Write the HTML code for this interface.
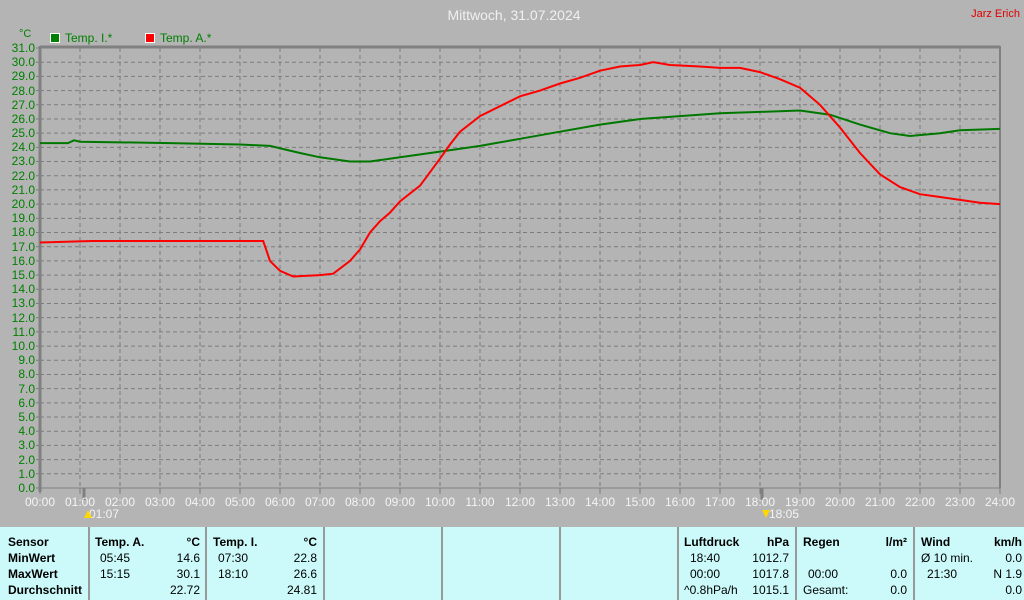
<!DOCTYPE html><html><head><meta charset="utf-8"><style>
body{margin:0;width:1024px;height:600px;background:#b4b4b4;overflow:hidden;font-family:"Liberation Sans",sans-serif}
svg{position:absolute;left:0;top:0}
#tbl{position:absolute;left:0;top:527px;width:1024px;height:73px;background:#ccfafa;font-size:12px;color:#000}
.c{position:absolute;top:0;height:73px;border-left:2px solid #999}
.t{position:absolute;white-space:nowrap}
.b{font-weight:bold}
</style></head><body>
<svg width="1024" height="527" id="s">
<text x="514" y="20" font-size="14" fill="#f0f0f0" text-anchor="middle">Mittwoch, 31.07.2024</text>
<text x="1020" y="17" font-size="11" fill="#e00000" text-anchor="end">Jarz Erich</text>
<text x="19" y="37" font-size="11" fill="#008000">°C</text>
<rect x="50.5" y="33.5" width="9" height="9" fill="#008000" stroke="#fff"/>
<text x="65" y="42" font-size="12" fill="#008000">Temp. I.*</text>
<rect x="145.5" y="33.5" width="9" height="9" fill="#ff0000" stroke="#fff"/>
<text x="160" y="42" font-size="12" fill="#008000">Temp. A.*</text>
<g id="grid"></g>
<g font-size="12" fill="#008000" text-anchor="end">
<text x="35" y="52">31.0</text><text x="35" y="66">30.0</text><text x="35" y="80">29.0</text><text x="35" y="95">28.0</text><text x="35" y="109">27.0</text><text x="35" y="123">26.0</text><text x="35" y="137">25.0</text><text x="35" y="151">24.0</text><text x="35" y="165">23.0</text><text x="35" y="180">22.0</text><text x="35" y="194">21.0</text><text x="35" y="208">20.0</text><text x="35" y="222">19.0</text><text x="35" y="236">18.0</text><text x="35" y="251">17.0</text><text x="35" y="265">16.0</text><text x="35" y="279">15.0</text><text x="35" y="293">14.0</text><text x="35" y="307">13.0</text><text x="35" y="322">12.0</text><text x="35" y="336">11.0</text><text x="35" y="350">10.0</text><text x="35" y="364">9.0</text><text x="35" y="378">8.0</text><text x="35" y="393">7.0</text><text x="35" y="407">6.0</text><text x="35" y="421">5.0</text><text x="35" y="435">4.0</text><text x="35" y="449">3.0</text><text x="35" y="464">2.0</text><text x="35" y="478">1.0</text><text x="35" y="492">0.0</text>
</g>
<g font-size="12" fill="#f4f4f4" text-anchor="middle">
<text x="40" y="506">00:00</text><text x="80" y="506">01:00</text><text x="120" y="506">02:00</text><text x="160" y="506">03:00</text><text x="200" y="506">04:00</text><text x="240" y="506">05:00</text><text x="280" y="506">06:00</text><text x="320" y="506">07:00</text><text x="360" y="506">08:00</text><text x="400" y="506">09:00</text><text x="440" y="506">10:00</text><text x="480" y="506">11:00</text><text x="520" y="506">12:00</text><text x="560" y="506">13:00</text><text x="600" y="506">14:00</text><text x="640" y="506">15:00</text><text x="680" y="506">16:00</text><text x="720" y="506">17:00</text><text x="760" y="506">18:00</text><text x="800" y="506">19:00</text><text x="840" y="506">20:00</text><text x="880" y="506">21:00</text><text x="920" y="506">22:00</text><text x="960" y="506">23:00</text><text x="1000" y="506">24:00</text>
<text x="104" y="518">01:07</text><text x="784" y="518">18:05</text>
</g>
<polygon points="84,518 88,510 92,518" fill="#ffd800"/>
<polygon points="762,510 766,518 770,510" fill="#ffd800"/>
<polyline id="g" fill="none" stroke="#007800" stroke-width="2"/>
<polyline id="r" fill="none" stroke="#ff0000" stroke-width="2"/>
</svg>
<div id="tbl">
<div class="c" style="left:88px"></div><div class="c" style="left:205px"></div><div class="c" style="left:323px"></div><div class="c" style="left:441px"></div><div class="c" style="left:559px"></div><div class="c" style="left:677px"></div><div class="c" style="left:795px"></div><div class="c" style="left:913px"></div>
<div class="t b" style="left:8px;top:8px">Sensor</div><div class="t b" style="left:8px;top:24px">MinWert</div><div class="t b" style="left:8px;top:40px">MaxWert</div><div class="t b" style="left:8px;top:56px">Durchschnitt</div>
<div class="t b" style="left:95px;top:8px">Temp. A.</div><div class="t b" style="right:824px;top:8px">°C</div>
<div class="t" style="left:100px;top:24px">05:45</div><div class="t" style="right:824px;top:24px">14.6</div>
<div class="t" style="left:100px;top:40px">15:15</div><div class="t" style="right:824px;top:40px">30.1</div>
<div class="t" style="right:824px;top:56px">22.72</div>
<div class="t b" style="left:213px;top:8px">Temp. I.</div><div class="t b" style="right:707px;top:8px">°C</div>
<div class="t" style="left:218px;top:24px">07:30</div><div class="t" style="right:707px;top:24px">22.8</div>
<div class="t" style="left:218px;top:40px">18:10</div><div class="t" style="right:707px;top:40px">26.6</div>
<div class="t" style="right:707px;top:56px">24.81</div>
<div class="t b" style="left:684px;top:8px">Luftdruck</div><div class="t b" style="right:235px;top:8px">hPa</div>
<div class="t" style="left:690px;top:24px">18:40</div><div class="t" style="right:235px;top:24px">1012.7</div>
<div class="t" style="left:690px;top:40px">00:00</div><div class="t" style="right:235px;top:40px">1017.8</div>
<div class="t" style="left:684px;top:56px">^0.8hPa/h</div><div class="t" style="right:235px;top:56px">1015.1</div>
<div class="t b" style="left:803px;top:8px">Regen</div><div class="t b" style="right:117px;top:8px">l/m²</div>
<div class="t" style="left:808px;top:40px">00:00</div><div class="t" style="right:117px;top:40px">0.0</div>
<div class="t" style="left:803px;top:56px">Gesamt:</div><div class="t" style="right:117px;top:56px">0.0</div>
<div class="t b" style="left:921px;top:8px">Wind</div><div class="t b" style="right:2px;top:8px">km/h</div>
<div class="t" style="left:921px;top:24px">Ø 10 min.</div><div class="t" style="right:2px;top:24px">0.0</div>
<div class="t" style="left:927px;top:40px">21:30</div><div class="t" style="right:2px;top:40px">N 1.9</div>
<div class="t" style="right:2px;top:56px">0.0</div>
</div>
<script>
var ns="http://www.w3.org/2000/svg",g=document.getElementById("grid");
function ln(x1,y1,x2,y2,st,w,d){var l=document.createElementNS(ns,"line");l.setAttribute("x1",x1);l.setAttribute("y1",y1);l.setAttribute("x2",x2);l.setAttribute("y2",y2);l.setAttribute("stroke",st);l.setAttribute("stroke-width",w);if(d)l.setAttribute("stroke-dasharray",d);g.appendChild(l);}
function Y(v){return 488-v*440/31;}
for(var v=1;v<31;v++)ln(40,Y(v),1000,Y(v),"#7c7c7c",1,"4 3");
for(var h=1;h<24;h++)ln(40+h*40,48,40+h*40,488,"#7c7c7c",1,"4 3");
for(var v=0;v<=31;v++)ln(36,Y(v),40,Y(v),"#7c7c7c",1);
for(var h=0;h<=24;h++)ln(40+h*40,488,40+h*40,494,"#7c7c7c",1);
ln(40,47,1000,47,"#808080",3);ln(40,46,40,492,"#808080",3);ln(1000,46,1000,488,"#808080",2);ln(40,488,1000,488,"#808080",1);
ln(84,488,84,500,"#808080",3);ln(762,488,762,500,"#808080",3);
function P(id,a){var s=[];for(var i=0;i<a.length;i+=2)s.push((40+a[i]*40).toFixed(1)+","+Y(a[i+1]).toFixed(1));document.getElementById(id).setAttribute("points",s.join(" "));}
P("r",[0,17.3,1.3,17.4,5.58,17.4,5.75,16.0,6,15.3,6.33,14.9,7,15.0,7.33,15.1,7.75,16.0,8,16.8,8.25,18.0,8.5,18.8,8.75,19.4,9,20.2,9.5,21.3,10,23.2,10.25,24.2,10.5,25.1,11,26.2,11.5,26.9,12,27.6,12.5,28.0,13,28.5,13.5,28.9,14,29.4,14.5,29.7,15,29.8,15.33,30.0,15.75,29.8,16.5,29.7,17,29.6,17.5,29.6,18,29.3,18.5,28.8,19,28.2,19.5,27.0,20,25.4,20.5,23.6,21,22.1,21.5,21.2,22,20.7,22.5,20.5,23,20.3,23.5,20.1,24,20.0]);
P("g",[0,24.3,0.7,24.3,0.85,24.5,1,24.4,3.25,24.3,5,24.2,5.75,24.1,6.5,23.6,7,23.3,7.75,23.0,8.25,23.0,9,23.3,10,23.7,11,24.1,12,24.6,13,25.1,14,25.6,15,26.0,16,26.2,17,26.4,18,26.5,19,26.6,19.75,26.3,20.5,25.6,21.25,25.0,21.75,24.8,22.5,25.0,23,25.2,24,25.3]);
</script>
</body></html>
